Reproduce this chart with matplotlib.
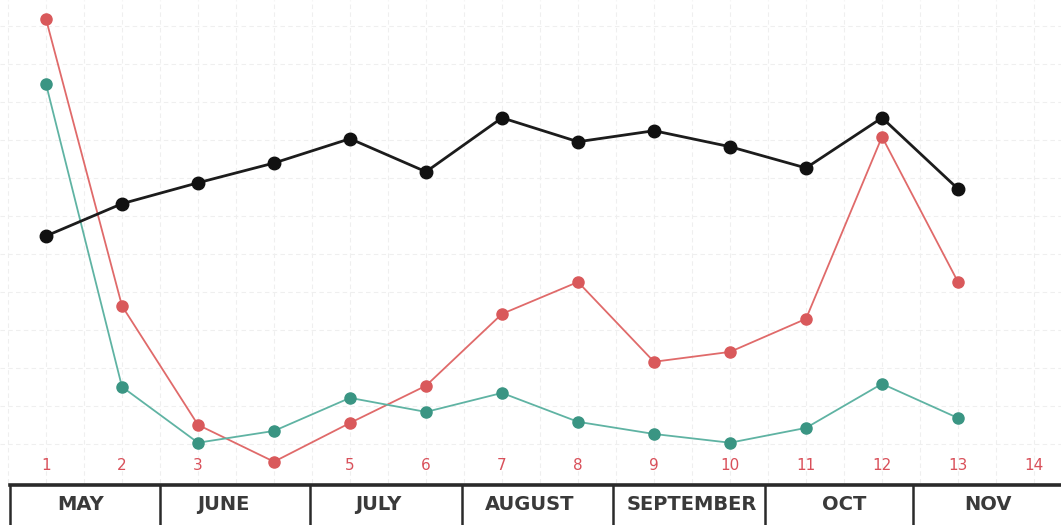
import matplotlib
matplotlib.use("Agg")
import matplotlib.pyplot as plt
import numpy as np

# ---- data ----
x_vals = list(range(1, 14))
black_vals = [6.47, 7.32, 7.87, 8.39, 9.03, 8.16, 9.58, 8.95, 9.24, 8.82, 8.26, 9.58, 7.71]
red_vals = [12.18, 4.63, 1.50, 0.53, 1.55, 2.53, 4.42, 5.26, 3.16, 3.42, 4.29, 9.08, 5.26]
teal_vals = [10.47, 2.50, 1.03, 1.34, 2.21, 1.84, 2.34, 1.58, 1.26, 1.03, 1.42, 2.58, 1.68]
tick_pos = list(range(1, 15))
tick_labels = ['1', '2', '3', '', '5', '6', '7', '8', '9', '10', '11', '12', '13', '14']
months = ['MAY', 'JUNE', 'JULY', 'AUGUST', 'SEPTEMBER', 'OCT', 'NOV']
month_bounds = [0.53, 2.5, 4.47, 6.47, 8.46, 10.46, 12.41]
month_label_x = [1.45, 3.33, 5.37, 7.37, 9.5, 11.5, 13.4]

W, H = 1061, 525
fig = plt.figure(figsize=(W / 100, H / 100), dpi=100)
fig.patch.set_facecolor('white')

xlim = (30 / 76, (W + 30) / 76)
ax = fig.add_axes([0, 42 / H, 1, 1 - 42 / H])
ax.set_xlim(*xlim)
ax.set_ylim(-0.03, 12.68)
ax.axis('off')

# faint grid
for gx in np.arange(0.5, 14.5, 0.5):
    ax.axvline(gx, color='#efefef', lw=0.8, ls=(0, (4, 3)), zorder=0)
for gy in range(1, 13):
    ax.axhline(gy, color='#efefef', lw=0.8, ls=(0, (4, 3)), zorder=0)

ax.plot(x_vals, black_vals, color='#1c1c1c', lw=2.0, marker='o', ms=9,
        mfc='#111111', mec='#111111', zorder=3)
ax.plot(x_vals, red_vals, color='#e06a6a', lw=1.3, marker='o', ms=8,
        mfc='#d9595b', mec='#d9595b', zorder=2)
ax.plot(x_vals, teal_vals, color='#5fb3a3', lw=1.3, marker='o', ms=8,
        mfc='#3a9583', mec='#3a9583', zorder=2)

for p, lab in zip(tick_pos, tick_labels):
    ax.text(p, 0.42, lab, color='#d9505a', fontsize=11, ha='center', va='center')

# month table
tax = fig.add_axes([0, 0, 1, 42 / H])
tax.set_xlim(*xlim)
tax.set_ylim(0, 1)
tax.axis('off')
tax.plot([month_bounds[0], xlim[1]], [0.95, 0.95], color='#2a2a2a', lw=2.6)
for b in month_bounds:
    tax.plot([b, b], [0, 0.95], color='#2a2a2a', lw=1.8)
for mx, m in zip(month_label_x, months):
    tax.text(mx, 0.5, m, color='#3a3a3a', fontsize=14, fontweight='bold',
             ha='center', va='center')

fig.savefig('out.png', dpi=100, facecolor='white')
